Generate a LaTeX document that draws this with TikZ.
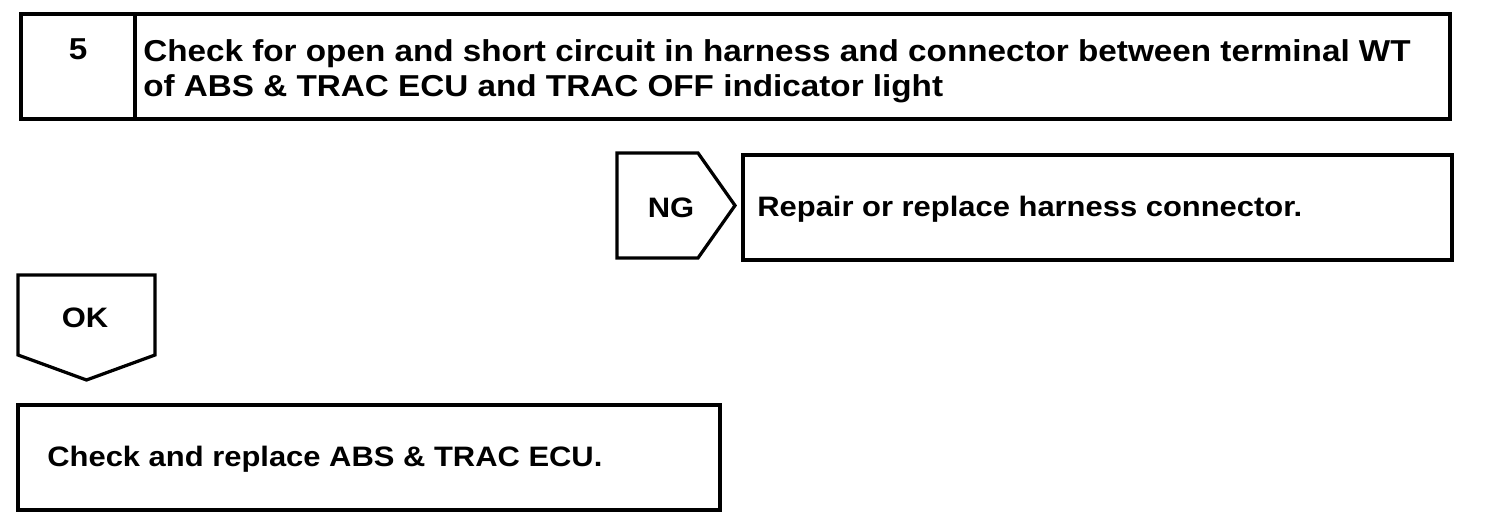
\documentclass[tikz,border=0pt]{standalone}
\usepackage{fontspec}
\setmainfont{Liberation Sans}[FakeStretch=1.1]
\usetikzlibrary{positioning}

\begin{document}
\begin{tikzpicture}[x=0.2mm,y=-0.2mm,
  frame/.style={draw,line width=0.65mm,minimum height=21mm,inner sep=0pt,outer sep=0pt},
  tagbox/.style={inner sep=0pt,outer sep=0pt},
  outline/.style={line width=0.65mm,line join=miter},
  txt/.style={inner sep=0pt,font=\bfseries\fontsize{16}{18}\selectfont},
  headtxt/.style={inner sep=0pt,font=\bfseries\fontsize{17.2}{18.4}\selectfont}]
\useasboundingbox (0,0) rectangle (1504,528);
% step 5 header
\node[frame,minimum width=22.8mm,anchor=north west](num) at (21,14){};
\node[frame,minimum width=263mm,right=0pt of num](title){};
\node[headtxt,anchor=base](numtext) at (78,60){5};
\node[headtxt,anchor=north west,align=left](titletext) at (143,39)
  {Check for open and short circuit in harness and connector between terminal WT\\[0.5mm]
   of ABS \& TRAC ECU and TRAC OFF indicator light};
% NG branch
\node[tagbox,minimum width=16.2mm,minimum height=21mm,anchor=north west](ng) at (617,153){};
\draw[outline] (ng.north west) -- (ng.north east) -- ([xshift=7.4mm]ng.east)
  -- (ng.south east) -- (ng.south west) -- cycle;
\node[txt](ngtext) at (671,208){NG};
\node[frame,minimum width=141.8mm,anchor=north west](repair) at (743,155){};
\node[txt,anchor=base west](repairtext) at (757,217){Repair or replace harness connector.};
% OK branch
\node[tagbox,minimum width=27.4mm,minimum height=16mm,anchor=north west](ok) at (18,275){};
\draw[outline] (ok.north west) -- (ok.north east) -- (ok.south east)
  -- ([yshift=-5mm]ok.south) -- (ok.south west) -- cycle;
\node[txt](oktext) at (85,318){OK};
\node[frame,minimum width=140.4mm,anchor=north west](ecu) at (18,405){};
\node[txt,anchor=base west](ecutext) at (47,467){Check and replace ABS \& TRAC ECU.};
\end{tikzpicture}
\end{document}
